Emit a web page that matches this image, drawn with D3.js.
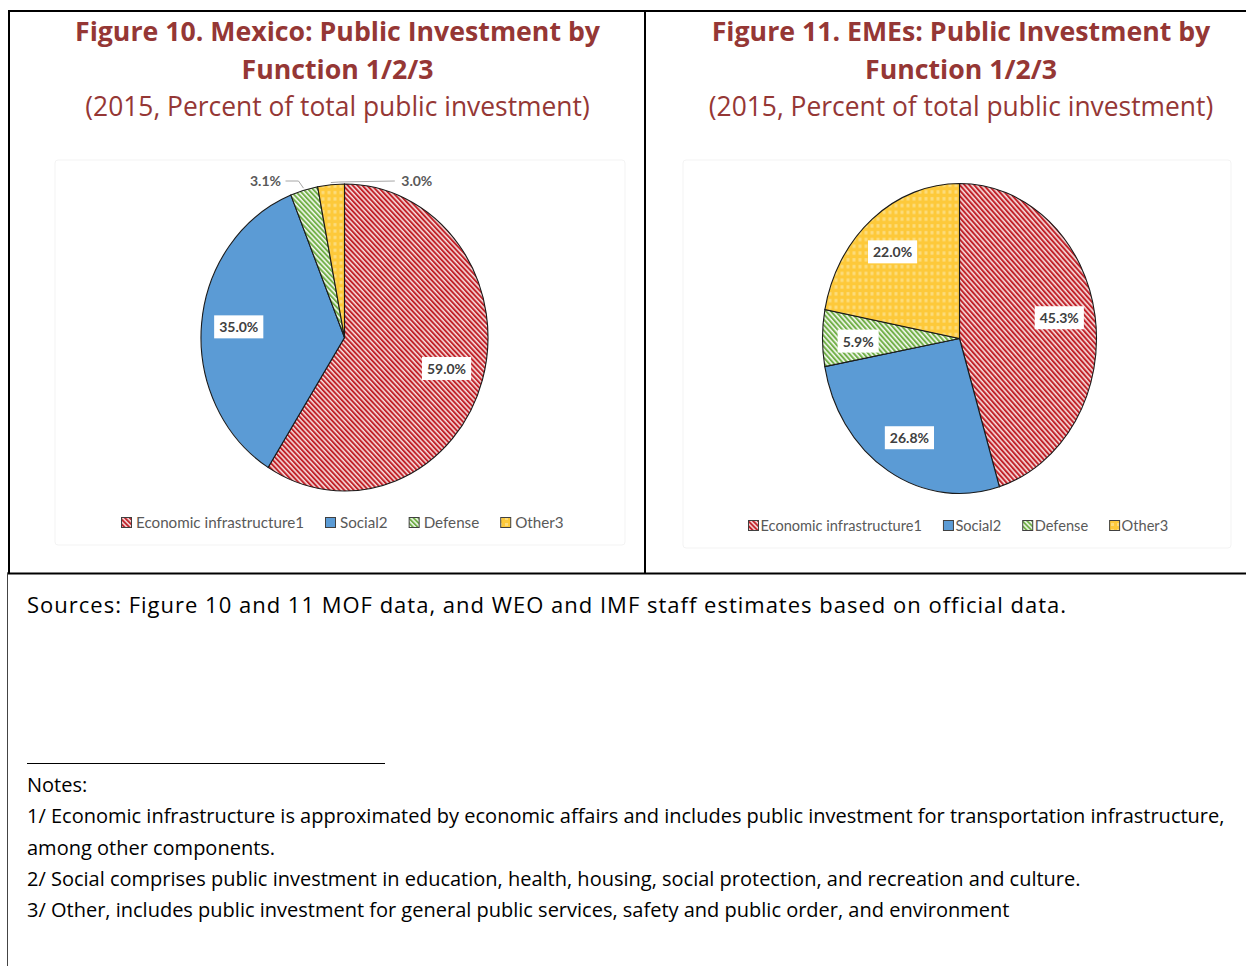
<!DOCTYPE html>
<html>
<head>
<meta charset="utf-8">
<script src="https://cdn.jsdelivr.net/npm/d3@7"></script>
<style>
  body { margin: 0; background: #fff; }
  svg { display: block; }
</style>
</head>
<body>
<div id="chart"></div>
<script>
// categories and values
const categories = ["Economic infrastructure1", "Social2", "Defense", "Other3"];
const mexicoValues = [59.0, 35.0, 3.1, 3.0];
const emesValues = [45.3, 26.8, 5.9, 22.0];
const patternIds = ["pat-econ", "pat-social", "pat-defense", "pat-other"];

const titles10 = ["Figure 10. Mexico: Public Investment by", "Function 1/2/3"];
const titles11 = ["Figure 11. EMEs: Public Investment by", "Function 1/2/3"];
const subtitle = "(2015, Percent of total public investment)";

const sourcesText = "Sources: Figure 10 and 11 MOF data, and WEO and IMF staff estimates based on official data.";
const notesLines = [
  "Notes:",
  "1/ Economic infrastructure is approximated by economic affairs and includes public investment for transportation infrastructure,",
  "among other components.",
  "2/ Social comprises public investment in education, health, housing, social protection, and recreation and culture.",
  "3/ Other, includes public investment for general public services, safety and public order, and environment"
];

const W = 1246, H = 966;
const titleColor = "#953735";
const textFont = "'Open Sans', 'Noto Sans', sans-serif";
const chartFont = "Lato, 'Liberation Sans', sans-serif";

const svg = d3.select("#chart").append("svg")
  .attr("width", W).attr("height", H);

// patterns
const defs = svg.append("defs");
function stripes(id, color, angle, bg) {
  const p = defs.append("pattern").attr("id", id)
    .attr("patternUnits", "userSpaceOnUse")
    .attr("width", 3.4).attr("height", 4)
    .attr("patternTransform", `rotate(${angle})`);
  p.append("rect").attr("width", 3.4).attr("height", 4).attr("fill", bg);
  p.append("rect").attr("width", 1.9).attr("height", 4).attr("fill", color);
}
stripes("pat-econ", "#c1232a", -45, "#f7dcdc");
stripes("pat-defense", "#73b04a", -45, "#f4f9ef");
defs.append("pattern").attr("id", "pat-social")
  .attr("patternUnits", "userSpaceOnUse").attr("width", 4).attr("height", 4)
  .append("rect").attr("width", 4).attr("height", 4).attr("fill", "#5b9bd5");
const po = defs.append("pattern").attr("id", "pat-other")
  .attr("patternUnits", "userSpaceOnUse").attr("width", 6).attr("height", 6);
po.append("rect").attr("width", 6).attr("height", 6).attr("fill", "#fdc93a");
po.append("rect").attr("x", 1).attr("y", 1).attr("width", 3).attr("height", 3).attr("fill", "#fcdc7c");

// frames
svg.append("line").attr("x1", 9).attr("x2", W).attr("y1", 11).attr("y2", 11)
  .attr("stroke", "#000").attr("stroke-width", 2);
svg.append("line").attr("x1", 9).attr("x2", 9).attr("y1", 10).attr("y2", 573)
  .attr("stroke", "#000").attr("stroke-width", 2);
svg.append("line").attr("x1", 645).attr("x2", 645).attr("y1", 10).attr("y2", 573)
  .attr("stroke", "#000").attr("stroke-width", 2);
svg.append("line").attr("x1", 7).attr("x2", W).attr("y1", 573.5).attr("y2", 573.5)
  .attr("stroke", "#000").attr("stroke-width", 2);
svg.append("line").attr("x1", 7.5).attr("x2", 7.5).attr("y1", 573).attr("y2", H)
  .attr("stroke", "#444").attr("stroke-width", 1);

function drawPanel(opt) {
  const g = svg.append("g");

  // titles
  opt.titles.forEach((t, i) => {
    g.append("text").attr("x", opt.cx0).attr("y", 41 + i * 38)
      .attr("text-anchor", "middle").attr("fill", titleColor)
      .style("font-family", textFont).style("font-weight", 700).style("font-size", "26.7px")
      .text(t);
  });
  g.append("text").attr("x", opt.cx0).attr("y", 116)
    .attr("text-anchor", "middle").attr("fill", titleColor)
    .style("font-family", textFont).style("font-size", "26.4px")
    .text(subtitle);

  // faint chart area frame
  g.append("rect").attr("x", opt.frame[0]).attr("y", opt.frame[1])
    .attr("width", opt.frame[2]).attr("height", opt.frame[3])
    .attr("fill", "none").attr("stroke", "#f3f3f3").attr("rx", 3);

  const pie = d3.pie().sort(null).value(d => d)
    .startAngle(0).endAngle(2 * Math.PI);
  const arcs = pie(opt.values);
  const arc = d3.arc().innerRadius(0).outerRadius(opt.r);

  const pg = g.append("g")
    .attr("transform", `translate(${opt.cx},${opt.cy}) scale(1,${opt.sy})`);
  pg.selectAll("path").data(arcs).join("path")
    .attr("d", arc)
    .attr("fill", (d, i) => `url(#${patternIds[i]})`)
    .attr("stroke", "#1a1a1a").attr("stroke-width", 1.1)
    .attr("vector-effect", "non-scaling-stroke");

  // labels
  const lg = g.append("g").style("font-family", chartFont)
    .style("font-weight", 700).style("font-size", "14px");
  arcs.forEach((d, i) => {
    const mid = (d.startAngle + d.endAngle) / 2 + opt.shift;
    const txt = d.data.toFixed(1) + "%";
    if (opt.outside.includes(i)) {
      // small slice: label above the pie with a leader line
      const ex = opt.cx + (opt.r + 2) * Math.sin(mid);
      const ey = opt.cy - (opt.r + 2) * Math.cos(mid) * opt.sy;
      const ty = opt.cy - opt.r * opt.sy - 3;
      const left = i === 2;
      const tx = left ? ex - 38 : ex + 86;
      const elbowX = left ? ex - 5 : ex + 8;
      lg.append("polyline")
        .attr("points", left
          ? `${ex},${ey} ${elbowX},${ty} ${tx + 20},${ty}`
          : `${ex},${ey} ${elbowX},${ty + 1} ${tx - 22},${ty}`)
        .attr("fill", "none").attr("stroke", "#a6a6a6").attr("stroke-width", 1);
      lg.append("text").attr("x", tx).attr("y", ty + 5)
        .attr("text-anchor", "middle").attr("fill", "#595959")
        .text(txt);
    } else {
      const lx = opt.cx + opt.r * opt.lf * Math.sin(mid);
      const ly = opt.cy - opt.r * opt.lf * Math.cos(mid) * opt.sy;
      const t = lg.append("text").attr("x", lx).attr("y", ly + 5)
        .attr("text-anchor", "middle").attr("fill", "#404040").text(txt);
      const bb = t.node().getBBox();
      lg.insert("rect", () => t.node())
        .attr("x", bb.x - 5).attr("y", bb.y - 3)
        .attr("width", bb.width + 10).attr("height", bb.height + 6)
        .attr("fill", "#fff");
    }
  });

  // legend
  const leg = g.append("g").style("font-family", chartFont).style("font-size", opt.legendSize);
  let x = opt.legendX;
  categories.forEach((c, i) => {
    leg.append("rect").attr("x", x + 0.5).attr("y", opt.legendY - 9.5)
      .attr("width", 10).attr("height", 10)
      .attr("fill", `url(#${patternIds[i]})`).attr("stroke", "#404040").attr("stroke-width", 1);
    const t = leg.append("text").attr("x", x + opt.legendPad).attr("y", opt.legendY + 0.5)
      .attr("fill", "#595959").text(c);
    x += opt.legendPad + t.node().getComputedTextLength() + opt.legendGap;
  });
}

drawPanel({
  titles: titles10, values: mexicoValues, cx0: 337.5,
  cx: 344.5, cy: 337.5, r: 143.5, sy: 153.5 / 143.5, lf: 0.74, shift: 0,
  outside: [2, 3], frame: [55, 160, 570, 385],
  legendX: 121, legendY: 527, legendGap: 21, legendPad: 15, legendSize: "15.2px"
});
drawPanel({
  titles: titles11, values: emesValues, cx0: 961,
  cx: 959.5, cy: 338.5, r: 137, sy: 155 / 137, lf: 0.74, shift: -0.03,
  outside: [], frame: [683, 160, 548, 388],
  legendX: 748, legendY: 530, legendGap: 21, legendPad: 12.5, legendSize: "14.6px"
});

// sources and notes
const notes = svg.append("g").style("font-family", textFont).attr("fill", "#000");
notes.append("text").attr("x", 27).attr("y", 613).style("font-size", "22px")
  .style("letter-spacing", "1px").text(sourcesText);
notes.append("line").attr("x1", 27).attr("x2", 385).attr("y1", 763.5).attr("y2", 763.5)
  .attr("stroke", "#000").attr("stroke-width", 1);
notes.selectAll("text.note").data(notesLines).join("text").attr("class", "note")
  .attr("x", 27).attr("y", (d, i) => 792 + i * 31.3)
  .style("font-size", "20px").text(d => d);
</script>
</body>
</html>
